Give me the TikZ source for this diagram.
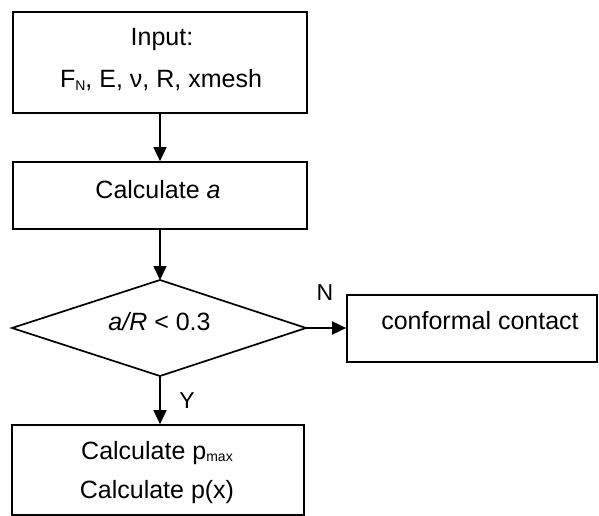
\documentclass[tikz,border=0pt]{standalone}
\usepackage{fontspec}
\setmainfont{Liberation Sans}
\usetikzlibrary{arrows.meta}
\newcommand{\mysub}[1]{\raisebox{-2.5bp}{\fontsize{14bp}{14bp}\selectfont #1}}
\begin{document}
\begin{tikzpicture}[x=1bp,y=-1bp,line width=1.7bp,
  box/.style={draw,rectangle,inner sep=0pt},
  txt/.style={anchor=base,inner sep=0pt,font=\fontsize{25bp}{30bp}\selectfont},
  lbl/.style={anchor=base,inner sep=0pt,font=\fontsize{23bp}{28bp}\selectfont},
  arr/.style={-{Triangle[length=14bp,width=13bp]}}]
\useasboundingbox (0,0) rectangle (599,516);
% boxes
\node[box,minimum width=294bp,minimum height=101bp] (in) at (160,62.5) {};
\node[txt] (tin1) at (162,46) {Input:};
\node[txt] (tin2) at (161,88) {F\mysub{N}, E, ν, R, xmesh};
\node[box,minimum width=294bp,minimum height=67bp] (ca) at (160,195.5) {};
\node[txt] (tca) at (158,199) {Calculate \textit{a}};
% diamond
\coordinate (dT) at (160,280);
\coordinate (dB) at (160,376);
\coordinate (dL) at (12,328);
\coordinate (dR) at (306,328);
\draw (dL) -- (dT) -- (dR) -- (dB) -- cycle;
\node[txt] (tdi) at (159.5,330) {\textit{a/R} < 0.3};
\node[box,minimum width=250bp,minimum height=67bp] (cc) at (472,328.5) {};
\node[txt] (tcc) at (480,329) {conformal contact};
\node[box,minimum width=292bp,minimum height=90bp] (bt) at (158,470) {};
\node[txt] (tb1) at (157,459) {Calculate p\mysub{max}};
\node[txt] (tb2) at (157,498) {Calculate p(x)};
% connectors
\draw[arr] (in.south) -- (ca.north);
\draw[arr] (ca.south) -- (dT);
\draw[arr] (dR) -- (dR -| cc.west);
\draw[arr] (dB) -- (dB |- bt.north);
\node[lbl] (lN) at (325,300) {N};
\node[lbl] (lY) at (187,408) {Y};
\end{tikzpicture}
\end{document}
